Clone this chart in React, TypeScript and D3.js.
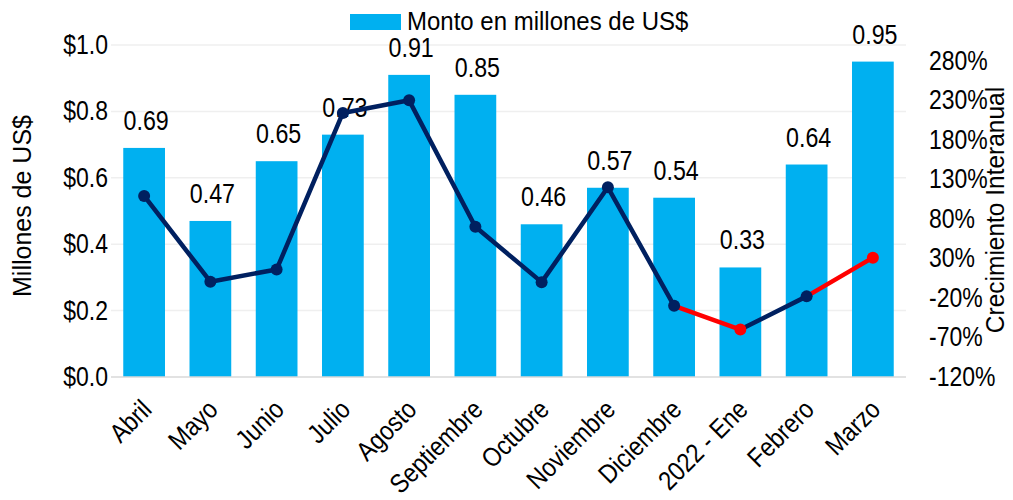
import React from "react";
import * as d3 from "d3";

const categories = ["Abril", "Mayo", "Junio", "Julio", "Agosto", "Septiembre", "Octubre", "Noviembre", "Diciembre", "2022 - Ene", "Febrero", "Marzo"];
const montos = [0.69, 0.47, 0.65, 0.73, 0.91, 0.85, 0.46, 0.57, 0.54, 0.33, 0.64, 0.95];
const crecimiento = [1.09, 0.006, 0.16, 2.14, 2.30, 0.70, 0.0, 1.20, -0.30, -0.60, -0.18, 0.31];
const redPoints = ["2022 - Ene", "Marzo"];
const leftTicks = [0, 0.2, 0.4, 0.6, 0.8, 1.0];
const rightTicks = [-1.2, -0.7, -0.2, 0.3, 0.8, 1.3, 1.8, 2.3, 2.8];

const W = 1013, H = 500;
const M = { left: 111, right: 906, top: 45, bottom: 377 };
const BAR = "#00B0F0", NAVY = "#002060", RED = "#FF0000";
const FONT = "'Liberation Sans', Arial, sans-serif";

function SText({ x, y, size, sx = 1, sy = 1, anchor = "middle", children }: any) {
  return (
    <text transform={`translate(${x},${y}) scale(${sx},${sy})`} fontSize={size} textAnchor={anchor} fill="#000" fontFamily={FONT}>
      {children}
    </text>
  );
}

export default function App() {
  const x = d3.scaleBand<string>().domain(categories).range([M.left, M.right]).paddingInner(0.37).paddingOuter(0.185);
  const xc = (c: string) => (x(c) as number) + x.bandwidth() / 2;
  const yL = d3.scaleLinear().domain([0, 1]).range([M.bottom, M.top]);
  const yR = d3.scaleLinear().domain([-1.2, 3.0]).range([M.bottom, M.top]);
  const pts = categories.map((c, i) => ({ c, x: xc(c), y: yR(crecimiento[i]), red: redPoints.includes(c) }));
  const line = d3.line<any>().x((d) => d.x).y((d) => d.y);
  const fmtL = (v: number) => "$" + v.toFixed(1);
  const fmtR = (v: number) => Math.round(v * 100).toString() + "%";

  return (
    <svg width={W} height={H} style={{ position: "absolute", left: 0, top: 0 }}>
      <rect width={W} height={H} fill="#fff" />
      {leftTicks.slice(1).map((t) => (
        <line key={t} x1={M.left} x2={M.right} y1={yL(t)} y2={yL(t)} stroke="#EFEFEF" strokeWidth={1.5} />
      ))}
      {categories.map((c, i) => (
        <rect key={c} x={x(c)} y={yL(montos[i])} width={x.bandwidth()} height={yL(0) - yL(montos[i])} fill={BAR} />
      ))}
      <line x1={M.left} x2={M.right} y1={yL(0)} y2={yL(0)} stroke="#D9D9D9" strokeWidth={1.5} />
      {categories.map((c, i) => (
        <SText key={c} x={xc(c) + 2} y={yL(montos[i]) - 18} size={25} sx={0.93} sy={1.12}>
          {montos[i].toFixed(2)}
        </SText>
      ))}
      {pts.slice(1).map((p, i) => (
        <path key={p.c} d={line([pts[i], p]) as string} stroke={p.red ? RED : NAVY} strokeWidth={4.5} fill="none" strokeLinecap="round" />
      ))}
      {pts.map((p) => (
        <circle key={p.c} cx={p.x} cy={p.y} r={6} fill={p.red ? RED : NAVY} />
      ))}
      {leftTicks.map((t) => (
        <SText key={t} x={108} y={yL(t) + 9} size={25} sx={0.92} sy={1.1} anchor="end">{fmtL(t)}</SText>
      ))}
      {rightTicks.map((t) => (
        <SText key={t} x={929} y={yR(t) + 9} size={25} sx={0.92} sy={1.1} anchor="start">{fmtR(t)}</SText>
      ))}
      {categories.map((c) => (
        <text key={c} transform={`translate(${xc(c) - 4},${398}) rotate(-45) scale(0.93,1.06)`} fontSize={25} textAnchor="end" fontFamily={FONT} dy="0.7em">
          {c}
        </text>
      ))}
      <text transform={`translate(${31},${206}) rotate(-90) scale(1.0,1.06)`} fontSize={25} textAnchor="middle" fontFamily={FONT}>Millones de US$</text>
      <text transform={`translate(${1004},${210}) rotate(-90) scale(0.98,1.06)`} fontSize={25} textAnchor="middle" fontFamily={FONT}>Crecimiento Interanual</text>
      <rect x={350} y={14} width={51} height={16} fill={BAR} />
      <SText x={407} y={30} size={24} sy={1.1} anchor="start">Monto en millones de US$</SText>
    </svg>
  );
}
